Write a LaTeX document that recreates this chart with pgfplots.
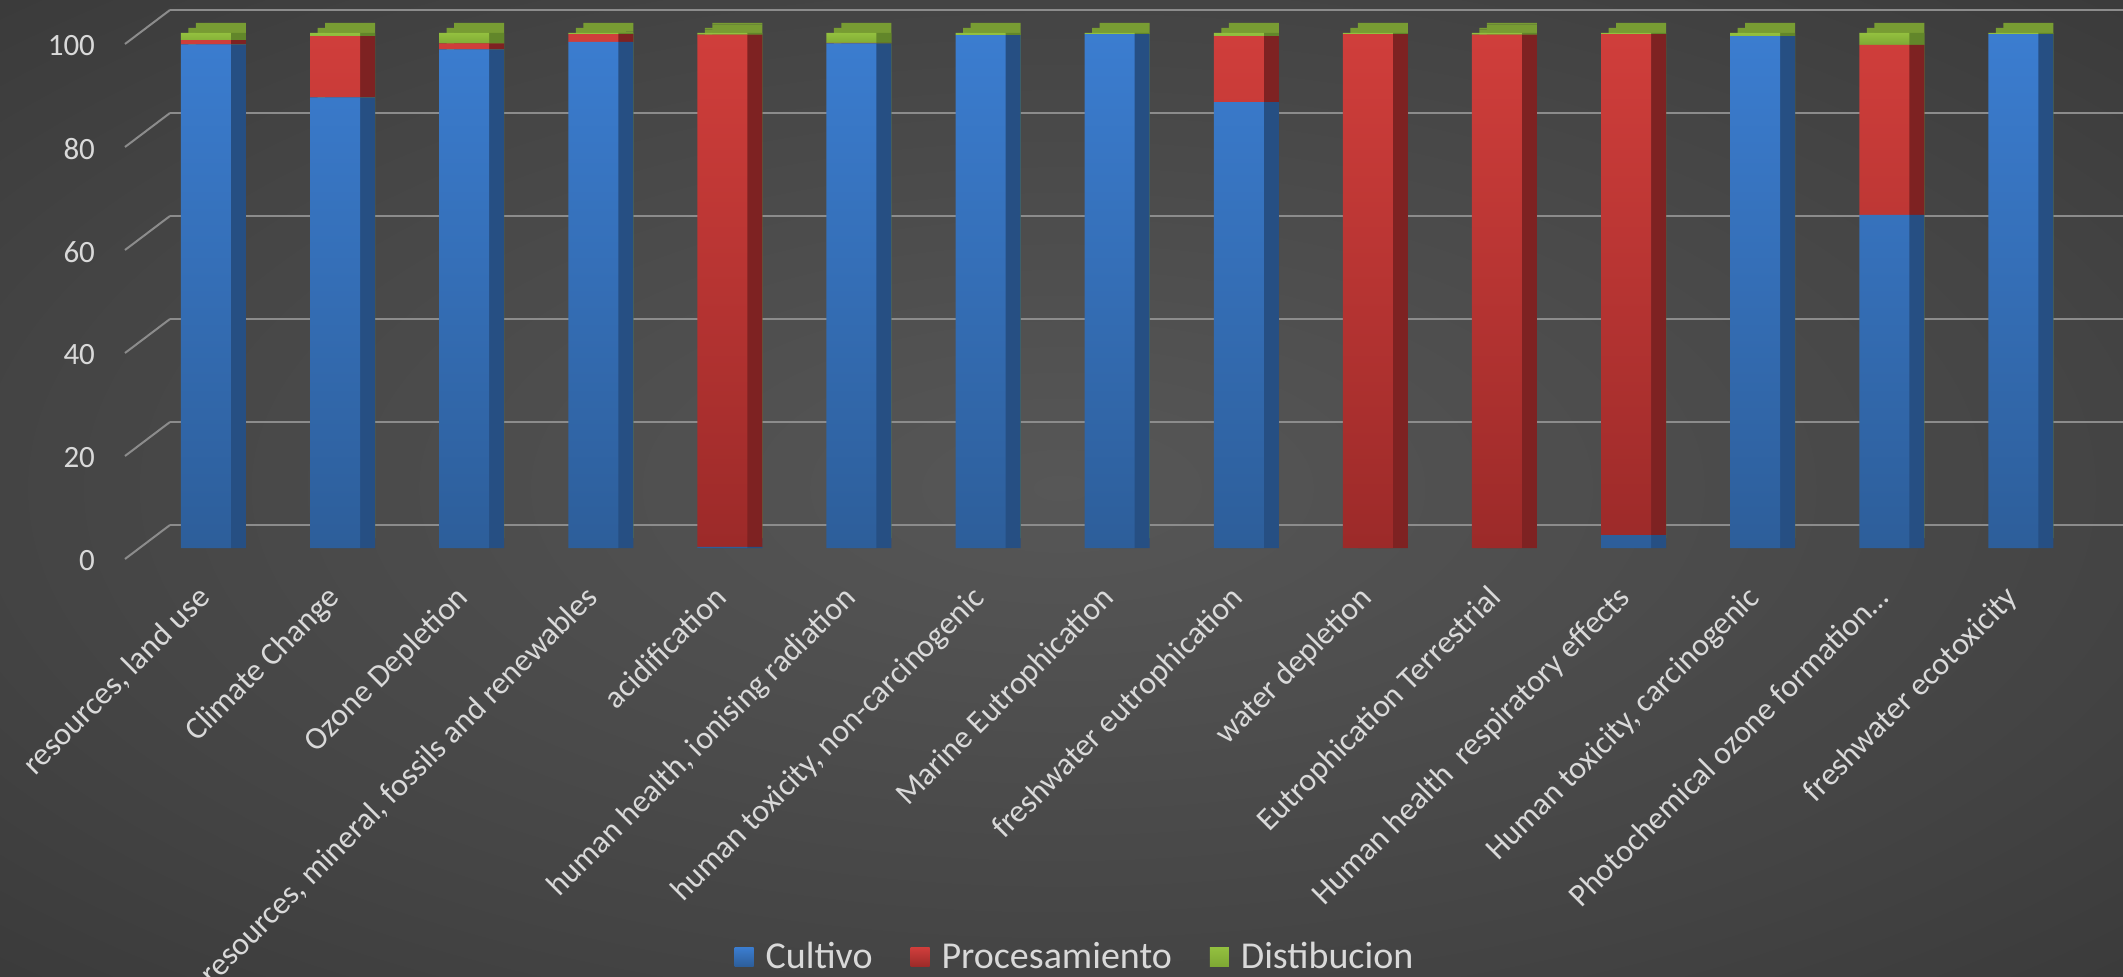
\documentclass[border=0pt]{standalone}
\usepackage{fontspec}
\setmainfont{Carlito}
\usepackage{pgfplots}
\usepackage{pgfplotstable}
\pgfplotsset{compat=1.18}

\definecolor{txt}{HTML}{D9D9D9}
\definecolor{gridc}{HTML}{8C8C8C}
\definecolor{bluetop}{HTML}{3B7DD0}
\definecolor{bluebot}{HTML}{2D5E9A}
\definecolor{redtop}{HTML}{D03E3B}
\definecolor{redbot}{HTML}{9C2A29}
\definecolor{greentop}{HTML}{93C03F}
\definecolor{greenbot}{HTML}{7EA834}
\definecolor{blueside}{HTML}{264F83}
\definecolor{redside}{HTML}{7E2222}
\definecolor{greenside}{HTML}{62862A}
\definecolor{olivetop}{HTML}{789C33}
\definecolor{bgA}{HTML}{575757}
\definecolor{bgB}{HTML}{444444}
\definecolor{bgC}{HTML}{2E2E2E}
\definecolor{bgD}{HTML}{1E1E1E}
\pgfdeclareradialshading{bgshade}{\pgfpoint{0bp}{0bp}}{color(0bp)=(bgA); color(25bp)=(bgB); color(50bp)=(bgC); color(72bp)=(bgD)}

\pgfplotstableread{
x cul pro dis
0 97.8 0.8 1.4
1 87.5 11.9 0.6
2 96.8 1.2 2.0
3 98.3 1.5 0.2
4 0.2 99.5 0.3
5 98.0 0.1 1.9
6 99.6 0.0 0.4
7 99.8 0.0 0.2
8 86.6 12.8 0.6
9 0.0 99.8 0.2
10 0.0 99.7 0.3
11 2.5 97.3 0.2
12 99.4 0.0 0.6
13 64.7 33.0 2.3
14 99.8 0.0 0.2
}\data

\pgfplotsset{
  barax/.style={at={(#1)}, anchor=south west, scale only axis,
    width=968.25pt, height=257.5pt, xmin=-0.5, xmax=14.5, ymin=0, ymax=100,
    ybar stacked, bar width=25pt, clip=false},
  legsq/.style={legend image code/.code={\draw[##1,draw=none] (0pt,-4.75pt) rectangle (9.5pt,4.75pt); \path (13.5pt,0pt);}},
}

\begin{document}
\begin{tikzpicture}
\useasboundingbox (0,0) rectangle (1061.5pt,488pt);
\clip (0,0) rectangle (1061.5pt,488pt);
\shade[shading=bgshade] (0,0) rectangle (1061.5pt,488pt);

% back wall with gridlines
\begin{axis}[
  at={(85pt,225.5pt)}, anchor=south west, scale only axis,
  width=976.5pt, height=257.5pt,
  xmin=0, xmax=1, ymin=0, ymax=100,
  xtick=\empty, ytick={0,20,40,60,80,100},
  ymajorgrids, grid style={draw=gridc, line width=1pt},
  axis line style={draw=none}, major tick length=0pt,
  tick label style={text=txt, font=\fontsize{15.5}{18}\selectfont},
  yticklabel style={xshift=-34pt, yshift=-18pt},
  /pgf/number format/assume math mode=true,
  clip=false,
]
\pgfplotsinvokeforeach{0,20,40,60,80,100}{\draw[gridc, line width=1pt] (axis cs:0,#1) -- ++(-22.5pt,-17pt);}
\end{axis}

% top faces (two layers approximate the slanted top)
\begin{axis}[barax={78.2pt,219pt}, hide axis]
\addplot[fill=olivetop, draw=none] table[x=x,y=cul]{\data};
\addplot[fill=olivetop, draw=none] table[x=x,y=pro]{\data};
\addplot[fill=olivetop, draw=none] table[x=x,y=dis]{\data};
\end{axis}
\begin{axis}[barax={74.45pt,216.5pt}, hide axis]
\addplot[fill=olivetop, draw=none] table[x=x,y=cul]{\data};
\addplot[fill=olivetop, draw=none] table[x=x,y=pro]{\data};
\addplot[fill=olivetop, draw=none] table[x=x,y=dis]{\data};
\end{axis}

% side faces
\begin{axis}[barax={78.2pt,214pt}, hide axis]
\addplot[fill=blueside, draw=none] table[x=x,y=cul]{\data};
\addplot[fill=redside, draw=none] table[x=x,y=pro]{\data};
\addplot[fill=greenside, draw=none] table[x=x,y=dis]{\data};
\end{axis}

% front faces
\begin{axis}[barax={70.7pt,214pt},
  axis line style={draw=none}, major tick length=0pt,
  ytick=\empty, xtick=data,
  xticklabels={{resources, land use},{Climate Change},{Ozone Depletion},{resources, mineral, fossils and renewables},{acidification},{human health, ionising radiation},{human toxicity, non-carcinogenic},{Marine Eutrophication},{freshwater eutrophication},{water depletion},{Eutrophication Terrestrial},{Human health~ respiratory effects},{Human toxicity, carcinogenic},{Photochemical ozone formation…},{freshwater ecotoxicity}},
  xticklabel style={xshift=-5pt, yshift=-13pt, rotate=45, anchor=north east, text=txt, font=\fontsize{16}{19}\selectfont},
  legend columns=3,
  legend style={at={(0.4826,-0.794)}, anchor=center, draw=none, fill=none, text=txt,
    font=\fontsize{19}{22}\selectfont,
    /tikz/every even column/.append style={column sep=17pt}},
]
\addplot[draw=none, top color=bluetop, bottom color=bluebot, legsq] table[x=x,y=cul]{\data};
\addplot[draw=none, top color=redtop, bottom color=redbot, legsq] table[x=x,y=pro]{\data};
\addplot[draw=none, top color=greentop, bottom color=greenbot, legsq] table[x=x,y=dis]{\data};
\legend{Cultivo, Procesamiento, Distibucion}
\end{axis}
\end{tikzpicture}
\end{document}
